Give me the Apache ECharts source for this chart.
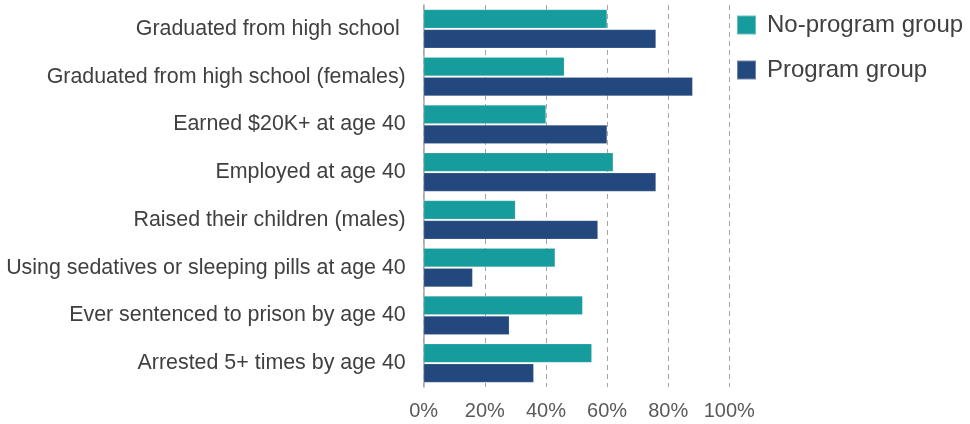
<!DOCTYPE html>
<html>
<head>
<meta charset="utf-8">
<script src="https://cdn.jsdelivr.net/npm/echarts@6/dist/echarts.min.js"></script>
<style>html,body{margin:0;padding:0;background:#fff}#c{width:970px;height:424px}</style>
</head>
<body>
<div id="c"></div>
<script>
const categories = [
  "Graduated from high school ",
  "Graduated from high school (females)",
  "Earned $20K+ at age 40",
  "Employed at age 40",
  "Raised their children (males)",
  "Using sedatives or sleeping pills at age 40",
  "Ever sentenced to prison by age 40",
  "Arrested 5+ times by age 40"
];
const noProgram = [60, 46, 40, 62, 30, 43, 52, 55];
const program = [76, 88, 60, 76, 57, 16, 28, 36];
const seriesNames = ["No-program group", "Program group"];

const chart = echarts.init(document.getElementById('c'), null, {renderer: 'canvas'});
const font = '"Liberation Sans", Arial, sans-serif';
chart.setOption({
  animation: false,
  backgroundColor: '#fff',
  grid: {left: 423.7, right: 240.7, top: 5, bottom: 37, containLabel: false},
  legend: {
    orient: 'vertical', left: 736, top: 13, padding: 0,
    itemWidth: 19, itemHeight: 19, itemGap: 21, icon: 'rect',
    textStyle: {fontFamily: font, fontSize: 24, lineHeight: 19, color: '#404040', padding: [0, 0, 0, 6]},
    data: seriesNames
  },
  xAxis: {
    type: 'value', min: 0, max: 100, interval: 20,
    axisLabel: {formatter: '{value}%', fontFamily: font, fontSize: 20, color: '#595959', margin: 14},
    axisLine: {show: false},
    axisTick: {show: false},
    splitLine: {show: true, lineStyle: {color: '#A6A6A6', type: [5, 4], width: 1}}
  },
  yAxis: {
    type: 'category', inverse: true, data: categories,
    axisLine: {show: true, lineStyle: {color: '#A6A6A6', width: 1.5}},
    axisTick: {show: false},
    axisLabel: {fontFamily: font, fontSize: 21.4, color: '#404040', margin: 18}
  },
  series: [
    {name: seriesNames[0], type: 'bar', data: noProgram, barGap: '6%', barCategoryGap: '19%',
     itemStyle: {color: '#169C9C', borderColor: 'rgba(255,255,255,0.35)', borderWidth: 0.5}},
    {name: seriesNames[1], type: 'bar', data: program, barGap: '6%', barCategoryGap: '19%',
     itemStyle: {color: '#23487E', borderColor: 'rgba(255,255,255,0.35)', borderWidth: 0.5}}
  ]
});
</script>
</body>
</html>
